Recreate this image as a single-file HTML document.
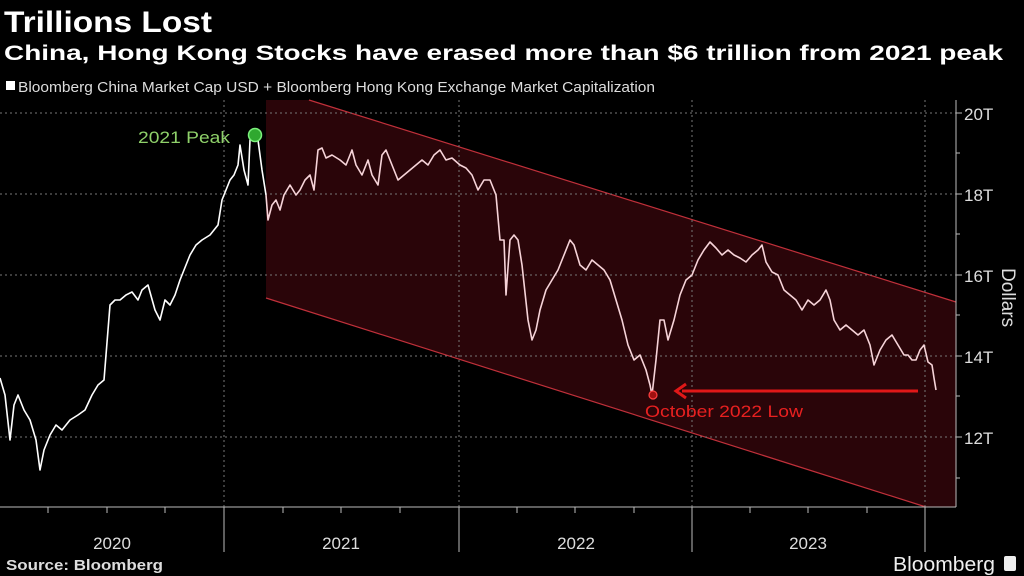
<!DOCTYPE html>
<html><head><meta charset="utf-8"><style>
body{margin:0;background:#000;width:1024px;height:576px;overflow:hidden;font-family:"Liberation Sans",sans-serif;color:#fff}
</style></head><body>
<svg width="1024" height="576" xmlns="http://www.w3.org/2000/svg" style="position:absolute;left:0;top:0">
<rect width="1024" height="576" fill="#000"/>
<text x="4" y="32" font-size="30" font-weight="bold" fill="#fff" textLength="208" lengthAdjust="spacingAndGlyphs">Trillions Lost</text>
<text x="4" y="60" font-size="21" font-weight="bold" fill="#fff" textLength="999" lengthAdjust="spacingAndGlyphs">China, Hong Kong Stocks have erased more than $6 trillion from 2021 peak</text>
<rect x="6" y="81" width="9" height="9" fill="#fff"/>
<text x="18" y="92" font-size="15" fill="#ddd" textLength="637" lengthAdjust="spacingAndGlyphs">Bloomberg China Market Cap USD + Bloomberg Hong Kong Exchange Market Capitalization</text>
<polygon points="266,100 309,100 956,302 956,507 926,507 266,298" fill="#2a0509"/>
<line x1="309" y1="100" x2="956" y2="302" stroke="#c0303a" stroke-width="1.2"/>
<line x1="266" y1="298" x2="926" y2="507" stroke="#c0303a" stroke-width="1.2"/>
<g stroke="#777" stroke-dasharray="2,3" stroke-width="1">
<line x1="0" y1="113" x2="956" y2="113"/><line x1="0" y1="194" x2="956" y2="194"/><line x1="0" y1="275" x2="956" y2="275"/><line x1="0" y1="356" x2="956" y2="356"/><line x1="0" y1="437" x2="956" y2="437"/>
<line x1="224" y1="100" x2="224" y2="507"/><line x1="459" y1="100" x2="459" y2="507"/><line x1="692" y1="100" x2="692" y2="507"/><line x1="925" y1="100" x2="925" y2="507"/>
</g>
<g stroke="#bbb" stroke-width="1">
<line x1="0" y1="507" x2="956" y2="507"/><line x1="956" y1="100" x2="956" y2="507"/>
<line x1="224" y1="507" x2="224" y2="552"/><line x1="459" y1="507" x2="459" y2="552"/><line x1="692" y1="507" x2="692" y2="552"/><line x1="925" y1="507" x2="925" y2="552"/>
<line x1="48" y1="507" x2="48" y2="513"/><line x1="107" y1="507" x2="107" y2="513"/><line x1="165" y1="507" x2="165" y2="513"/>
<line x1="283" y1="507" x2="283" y2="513"/><line x1="341" y1="507" x2="341" y2="513"/><line x1="400" y1="507" x2="400" y2="513"/>
<line x1="517" y1="507" x2="517" y2="513"/><line x1="575" y1="507" x2="575" y2="513"/><line x1="634" y1="507" x2="634" y2="513"/>
<line x1="750" y1="507" x2="750" y2="513"/><line x1="808" y1="507" x2="808" y2="513"/><line x1="867" y1="507" x2="867" y2="513"/>
<line x1="956" y1="113" x2="962" y2="113"/><line x1="956" y1="194" x2="962" y2="194"/><line x1="956" y1="275" x2="962" y2="275"/><line x1="956" y1="356" x2="962" y2="356"/><line x1="956" y1="437" x2="962" y2="437"/>
<line x1="956" y1="153" x2="960" y2="153"/><line x1="956" y1="234" x2="960" y2="234"/><line x1="956" y1="315" x2="960" y2="315"/><line x1="956" y1="396" x2="960" y2="396"/><line x1="956" y1="478" x2="960" y2="478"/>
</g>
<g font-size="17" fill="#ddd">
<text x="964" y="120">20T</text><text x="964" y="201">18T</text><text x="964" y="282">16T</text><text x="964" y="363">14T</text><text x="964" y="444">12T</text>
<text x="112" y="549" text-anchor="middle">2020</text><text x="341" y="549" text-anchor="middle">2021</text><text x="576" y="549" text-anchor="middle">2022</text><text x="808" y="549" text-anchor="middle">2023</text>
</g>
<text x="1002" y="268" font-size="19" fill="#ddd" transform="rotate(90 1002 268)">Dollars</text>
<polyline fill="none" stroke="#fff" stroke-width="1.6" stroke-linejoin="round" points="0,378 5,395 10,440 14,405 18,395 24,410 30,420 36,440 40,470 44,450 50,435 56,425 62,430 70,420 78,415 85,410 92,395 98,385 104,380 108,330 110,305 115,300 120,300 126,295 132,292 138,300 142,290 148,285 155,310 160,320 165,300 170,305 175,295 180,280 186,265 190,255 196,245 202,240 210,235 218,225 222,200 226,190 230,180 234,175 238,165 240,145 244,170 248,185 250,140 254,135 258,140 262,170 266,195"/>
<polyline fill="none" stroke="#f6d3d8" stroke-width="1.6" stroke-linejoin="round" points="266,195 268,220 272,205 276,200 280,210 284,195 290,185 296,195 300,190 305,180 310,175 314,190 318,150 322,148 326,158 332,155 340,160 346,165 352,150 356,165 362,175 368,160 372,175 378,185 382,155 386,150 392,165 398,180 404,175 410,170 416,165 422,160 428,165 434,155 440,150 446,160 452,158 460,165 466,168 472,175 478,190 484,180 490,180 496,195 500,240 504,240 506,295 510,240 514,235 518,240 522,265 528,320 532,340 536,330 540,310 546,290 552,280 558,270 564,255 570,240 574,245 580,265 586,270 592,260 598,265 604,270 610,280 616,300 622,320 628,345 634,360 640,355 646,370 650,385 652,395 656,360 660,320 664,320 668,340 674,320 680,295 686,280 692,275 698,260 704,250 710,242 716,248 722,255 728,250 734,255 740,258 746,262 752,255 758,250 762,245 766,262 772,272 778,275 784,290 790,295 796,300 802,310 808,300 814,305 820,300 826,290 830,300 834,320 840,330 846,325 852,330 858,335 864,330 870,345 874,365 880,350 886,340 892,335 898,345 904,355 908,355 912,360 916,360 920,350 924,345 928,362 932,365 934,378 936,390"/>
<circle cx="255" cy="135" r="6.5" fill="#2fa82f" stroke="#7cf07c" stroke-width="1.5"/>
<text x="138" y="143" font-size="17" fill="#8fd16a" textLength="92" lengthAdjust="spacingAndGlyphs">2021 Peak</text>
<circle cx="653" cy="395" r="4" fill="#a01010" stroke="#ff4040" stroke-width="1.2"/>
<line x1="918" y1="391" x2="682" y2="391" stroke="#e01818" stroke-width="3"/>
<polyline points="686,384 676,391 686,398" fill="none" stroke="#e01818" stroke-width="3"/>
<text x="645" y="417" font-size="17" fill="#e82020" textLength="158" lengthAdjust="spacingAndGlyphs">October 2022 Low</text>
<text x="6" y="570" font-size="15" font-weight="bold" fill="#ddd" textLength="157" lengthAdjust="spacingAndGlyphs">Source: Bloomberg</text>
<text x="893" y="571" font-size="20" fill="#eee" textLength="102" lengthAdjust="spacingAndGlyphs">Bloomberg</text>
<rect x="1004" y="556" width="12" height="15" rx="2" fill="#eee"/>
</svg>
</body></html>
